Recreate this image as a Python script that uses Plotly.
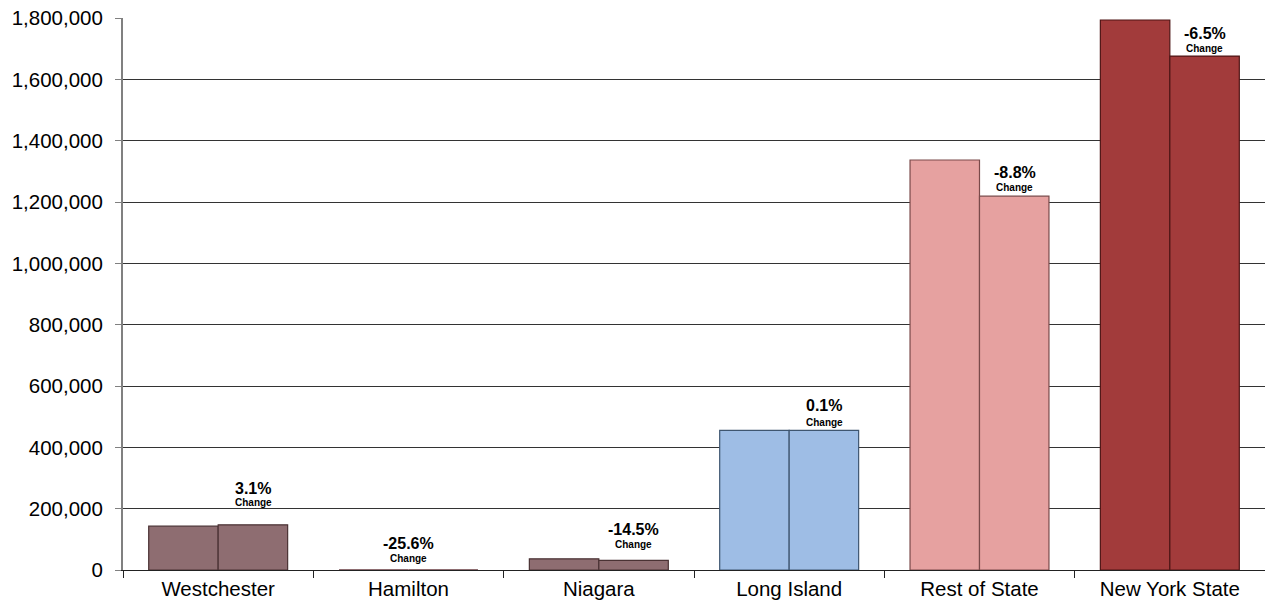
import plotly.graph_objects as go

categories = ["Westchester", "Hamilton", "Niagara", "Long Island", "Rest of State", "New York State"]
values_first = [143000, 430, 36500, 455000, 1337000, 1793500]
values_second = [147400, 320, 31200, 455500, 1219000, 1676000]
change_labels = ["3.1%", "-25.6%", "-14.5%", "0.1%", "-8.8%", "-6.5%"]

bar_colors = ["#8E6D71", "#8E6D71", "#8E6D71", "#9EBDE5", "#E6A1A0", "#A23B3B"]
edge_colors = ["#4A3234", "#4A3234", "#4A3234", "#3F5670", "#7A4A4A", "#4E1515"]
edge_widths = [1.2, 0, 1.2, 1.2, 1.2, 1.2]
label_xshift = [35, 0, 35, 35, 35, 35]
pct_yshift = [36, 26, 31, 25, 24, 23]
chg_yshift = [22, 11, 16, 8, 9, 8]

FONT = "Liberation Sans, Arial, sans-serif"

fig = go.Figure()
for vals in (values_first, values_second):
    fig.add_trace(go.Bar(
        x=categories, y=vals,
        marker=dict(color=bar_colors, line=dict(color=edge_colors, width=edge_widths)),
        showlegend=False, hoverinfo="x+y",
    ))

for i, cat in enumerate(categories):
    fig.add_annotation(x=cat, y=values_second[i], text="<b>%s</b>" % change_labels[i],
                       showarrow=False, xshift=label_xshift[i], yshift=pct_yshift[i],
                       font=dict(family=FONT, size=16, color="#000"), yanchor="middle")
    fig.add_annotation(x=cat, y=values_second[i], text="<b>Change</b>",
                       showarrow=False, xshift=label_xshift[i], yshift=chg_yshift[i],
                       font=dict(family=FONT, size=10, color="#000"), yanchor="middle")

fig.update_layout(
    width=1265, height=607,
    margin=dict(l=123, r=0, t=18, b=37),
    paper_bgcolor="white", plot_bgcolor="white",
    barmode="group", bargap=0.27, bargroupgap=0,
    font=dict(family=FONT, size=20.5, color="#000"),
)
fig.update_yaxes(
    range=[0, 1800000], dtick=200000, tickformat=",d",
    showgrid=True, gridcolor="#333", gridwidth=1,
    showline=True, linecolor="#808080", linewidth=2,
    ticks="outside", ticklen=6, tickcolor="#808080",
    zeroline=True, zerolinecolor="#222", zerolinewidth=1,
    tickfont=dict(size=20.5), ticklabelstandoff=8,
)
fig.update_xaxes(
    showline=True, linecolor="#222", linewidth=1,
    ticks="outside", tickson="boundaries", ticklen=7, tickcolor="#222",
    tickfont=dict(size=20.5),
)

fig.write_html("out.html", config={"displayModeBar": False},
               post_script="document.body.style.margin='0';document.body.style.overflow='hidden';")
